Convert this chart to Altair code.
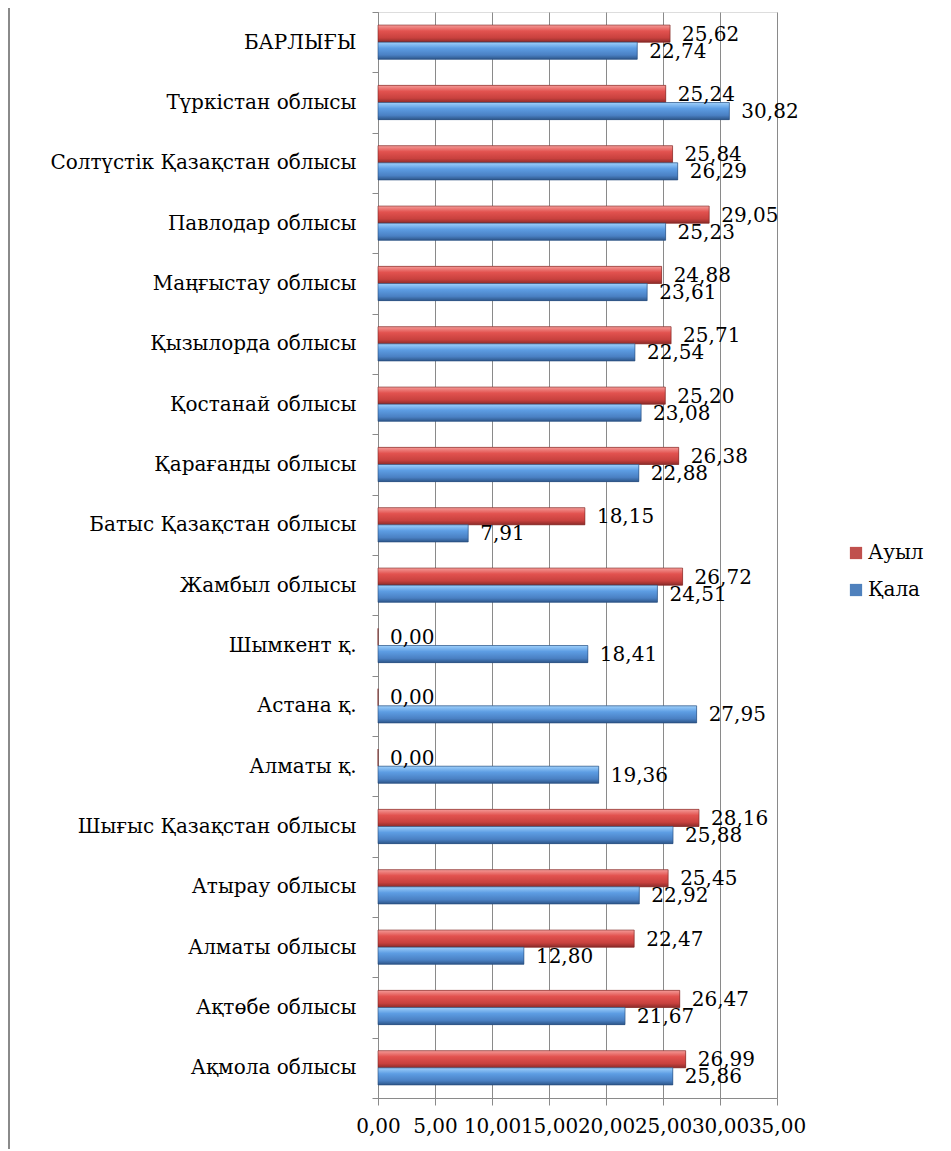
import altair as alt
import pandas as pd

regions = [
    "БАРЛЫҒЫ", "Түркістан облысы", "Солтүстік Қазақстан облысы", "Павлодар облысы",
    "Маңғыстау облысы", "Қызылорда облысы", "Қостанай облысы", "Қарағанды облысы",
    "Батыс Қазақстан облысы", "Жамбыл облысы", "Шымкент қ.", "Астана қ.", "Алматы қ.",
    "Шығыс Қазақстан облысы", "Атырау облысы", "Алматы облысы", "Ақтөбе облысы", "Ақмола облысы",
]
auyl = [25.62, 25.24, 25.84, 29.05, 24.88, 25.71, 25.20, 26.38, 18.15, 26.72,
        0.00, 0.00, 0.00, 28.16, 25.45, 22.47, 26.47, 26.99]
qala = [22.74, 30.82, 26.29, 25.23, 23.61, 22.54, 23.08, 22.88, 7.91, 24.51,
        18.41, 27.95, 19.36, 25.88, 22.92, 12.80, 21.67, 25.86]
series = ["Ауыл", "Қала"]
x_ticks = [0, 5, 10, 15, 20, 25, 30, 35]
colors = ["#C0504D", "#4F81BD"]

rows = []
for r, a, q in zip(regions, auyl, qala):
    rows.append({"region": r, "series": series[0], "value": a})
    rows.append({"region": r, "series": series[1], "value": q})
df = pd.DataFrame(rows)
df["label"] = df["value"].map(lambda v: f"{v:.2f}".replace(".", ","))

FONT = "DejaVu Serif"
W, H = 399, 1086
GRAY = "#8a8a8a"

y_enc = alt.Y(
    "region:N", sort=regions,
    scale=alt.Scale(paddingInner=0, paddingOuter=0),
    axis=alt.Axis(title=None, tickBand="extent", labelFont=FONT, labelFontSize=20,
                  labelColor="black", labelPadding=16, tickSize=6, tickColor=GRAY,
                  domainColor=GRAY, labelLimit=400, grid=False),
)
yoff = alt.YOffset("series:N", sort=series, scale=alt.Scale(paddingInner=0, paddingOuter=0.76))
x_enc = alt.X(
    "value:Q", scale=alt.Scale(domain=[0, 35], nice=False),
    axis=alt.Axis(title=None, values=x_ticks,
                  labelExpr="replace(format(datum.value, '.2f'), '.', ',')",
                  labelOverlap=False, labelFlush=False, labelFont=FONT, labelFontSize=20,
                  labelColor="black", labelPadding=11, tickSize=7, tickColor=GRAY,
                  domainColor=GRAY, gridColor=GRAY, grid=True),
)

base = alt.Chart(df)

bars = base.mark_bar().encode(
    x=x_enc, y=y_enc, yOffset=yoff,
    color=alt.Color("series:N", sort=series,
                    scale=alt.Scale(domain=series, range=colors),
                    legend=alt.Legend(title=None, orient="none", legendX=468, legendY=531,
                                      symbolType="square", symbolSize=150, symbolStrokeWidth=0,
                                      labelFont=FONT, labelFontSize=20, labelColor="black",
                                      rowPadding=17, labelOffset=2)),
)

grad_red = alt.Gradient(gradient="linear", x1=0, x2=0, y1=0, y2=1, stops=[
    alt.GradientStop(color="#f49b98", offset=0),
    alt.GradientStop(color="#e2524f", offset=0.35),
    alt.GradientStop(color="#c8413e", offset=0.75),
    alt.GradientStop(color="#8b2b29", offset=1),
])
grad_blue = alt.Gradient(gradient="linear", x1=0, x2=0, y1=0, y2=1, stops=[
    alt.GradientStop(color="#9fd0fb", offset=0),
    alt.GradientStop(color="#5d9de3", offset=0.35),
    alt.GradientStop(color="#4a80c3", offset=0.75),
    alt.GradientStop(color="#2d5689", offset=1),
])

over_red = base.transform_filter(alt.datum.series == series[0]).mark_bar(
    color=grad_red, stroke="#7a2624", strokeWidth=0.6).encode(x="value:Q", y=alt.Y("region:N", sort=regions), yOffset=alt.YOffset("series:N", sort=series))
over_blue = base.transform_filter(alt.datum.series == series[1]).mark_bar(
    color=grad_blue, stroke="#254a78", strokeWidth=0.6).encode(x="value:Q", y=alt.Y("region:N", sort=regions), yOffset=alt.YOffset("series:N", sort=series))

labels = base.mark_text(align="left", baseline="middle", dx=12, dy=1, font=FONT,
                        fontSize=20, color="black").encode(
    x="value:Q", y=alt.Y("region:N", sort=regions), yOffset=alt.YOffset("series:N", sort=series),
    text="label:N",
)

border = alt.Chart(pd.DataFrame({"a": [0]})).mark_rule(color=GRAY, strokeWidth=2).encode(
    x=alt.value(-369), y=alt.value(-12), y2=alt.value(1139),
)

chart = alt.layer(bars, over_red, over_blue, labels, border).properties(
    width=W, height=H,
    autosize=alt.AutoSizeParams(type="none"),
    padding={"left": 370, "top": 4, "right": 150, "bottom": 51},
).configure_view(stroke=None).configure(background="white")

chart.save("out.html", embed_options={"renderer": "svg", "actions": False})
